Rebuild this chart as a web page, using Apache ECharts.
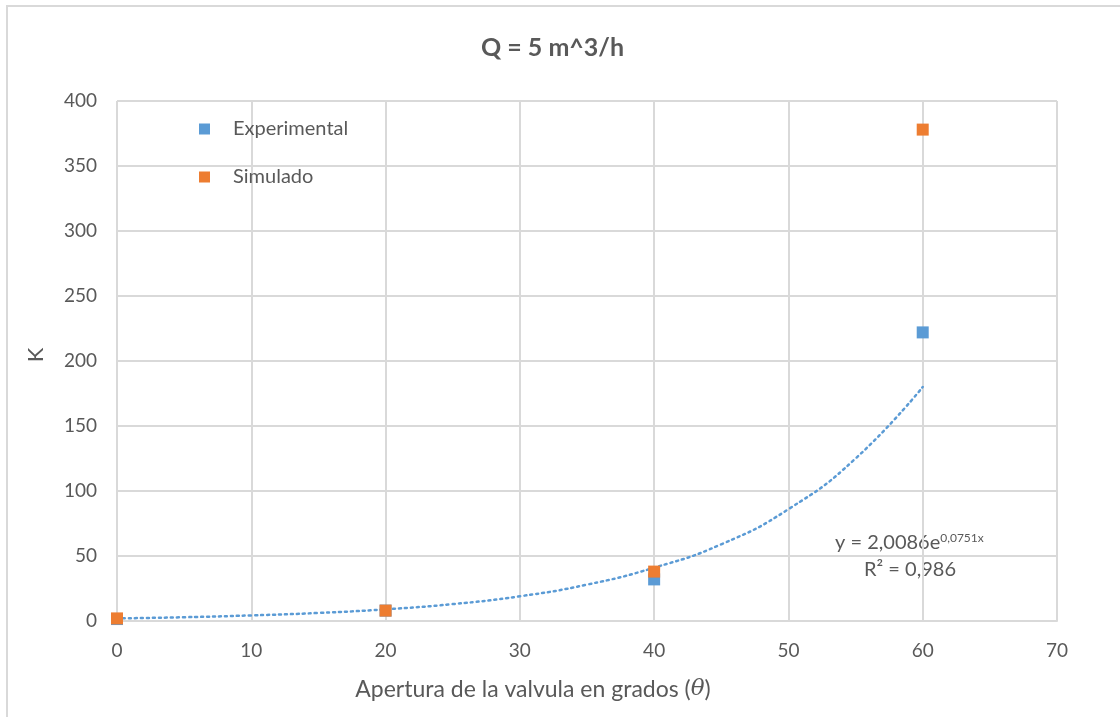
<!DOCTYPE html>
<html>
<head>
<meta charset="utf-8">
<script src="https://cdn.jsdelivr.net/npm/echarts@6/dist/echarts.min.js"></script>
<style>
  html, body { margin: 0; padding: 0; background: #fff; }
  #frame {
    position: absolute; left: 0; top: 0; width: 1120px; height: 717px;
  }
  #border {
    position: absolute; left: 6px; top: 5px; right: 0; bottom: 0;
    border-top: 2px solid #d9d9d9; border-left: 2px solid #d9d9d9;
  }
  #chart { position: absolute; left: 0; top: 0; width: 1120px; height: 717px; }
</style>
</head>
<body>
<div id="frame">
  <div id="border"></div>
  <div id="chart"></div>
</div>
<script>
// angle of the valve opening (degrees)
const angles = [0, 20, 40, 60]
const experimental = [1.5, 8, 32, 222]
const simulado = [2, 8, 38, 378]

const trendAngles = [0, 5, 10, 15, 20, 25, 30, 35, 40, 45, 50, 55, 60]
const trendValues = [2, 2.9, 4.3, 6.2, 9, 13, 19, 28, 41, 59, 86, 125, 180]

const xTicks = { min: 0, max: 70, interval: 10 }
const yTicks = { min: 0, max: 400, interval: 50 }

const blue = '#5b9bd5'
const orange = '#ed7d31'
const gridColor = '#d9d9d9'
const textColor = '#595959'
const font = 'Lato, "Open Sans", sans-serif'

const chart = echarts.init(document.getElementById('chart'))

chart.setOption({
  animation: false,
  backgroundColor: 'transparent',
  textStyle: { fontFamily: font },
  title: {
    text: 'Q = 5 m^3/h',
    left: 476,
    top: 30,
    textStyle: { fontSize: 25, fontWeight: 'bold', color: textColor, fontFamily: font },
  },
  legend: {
    orient: 'vertical',
    left: 194,
    top: 114,
    itemGap: 28,
    itemWidth: 11,
    itemHeight: 11,
    textStyle: { fontSize: 20, color: textColor, padding: [0, 0, 0, 18] },
    data: [
      { name: 'Experimental', icon: 'rect' },
      { name: 'Simulado', icon: 'rect' },
    ],
  },
  grid: { left: 117, right: 63, top: 101, bottom: 96 },
  xAxis: {
    type: 'value',
    min: xTicks.min,
    max: xTicks.max,
    interval: xTicks.interval,
    name: 'Apertura de la valvula en grados ({i|θ})',
    nameLocation: 'middle',
    nameGap: 57,
    nameTextStyle: {
      fontSize: 23,
      color: textColor,
      padding: [0, 108, 0, 0],
      rich: { i: { fontSize: 23, color: textColor, fontStyle: 'italic', fontFamily: 'DejaVu Serif' } },
    },
    axisLine: { lineStyle: { color: gridColor, width: 2 } },
    axisTick: { show: false },
    axisLabel: { fontSize: 19, color: textColor, margin: 20 },
    splitLine: { lineStyle: { color: gridColor, width: 2 } },
  },
  yAxis: {
    type: 'value',
    min: yTicks.min,
    max: yTicks.max,
    interval: yTicks.interval,
    name: 'K',
    nameLocation: 'middle',
    nameGap: 70,
    nameTextStyle: { fontSize: 22, color: textColor, padding: [0, 0, 0, 12] },
    axisLine: { show: false },
    axisTick: { show: false },
    axisLabel: { fontSize: 19, color: textColor, margin: 20 },
    splitLine: { lineStyle: { color: gridColor, width: 2 } },
  },
  series: [
    {
      name: 'Tendencia',
      type: 'line',
      data: trendAngles.map((a, i) => [a, trendValues[i]]),
      smooth: true,
      symbol: 'none',
      silent: true,
      lineStyle: { color: blue, width: 2.5, type: [2, 4], cap: 'round' },
      z: 1,
    },
    {
      name: 'Experimental',
      type: 'scatter',
      symbol: 'rect',
      symbolSize: 12,
      itemStyle: { color: blue, opacity: 1 },
      data: angles.map((a, i) => [a, experimental[i]]),
      z: 2,
    },
    {
      name: 'Simulado',
      type: 'scatter',
      symbol: 'rect',
      symbolSize: 12,
      itemStyle: { color: orange, opacity: 1 },
      data: angles.map((a, i) => [a, simulado[i]]),
      z: 3,
    },
  ],
  graphic: [
    {
      type: 'text',
      left: 835,
      top: 532,
      style: {
        text: '{b|y = 2,0086e}{s|0,0751x}',
        rich: {
          b: { fontSize: 20, fill: textColor, fontFamily: font },
          s: { fontSize: 12, fill: textColor, fontFamily: font, verticalAlign: 'top', padding: [0, 0, 10, 0] },
        },
      },
    },
    {
      type: 'text',
      left: 864,
      top: 560,
      style: { text: 'R² = 0,986', fontSize: 20, fill: textColor, fontFamily: font },
    },
  ],
})
</script>
</body>
</html>
